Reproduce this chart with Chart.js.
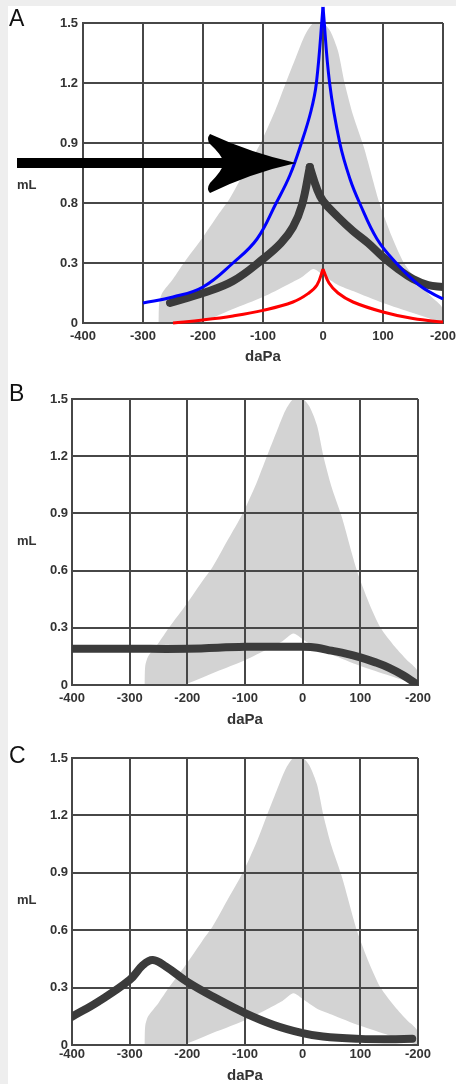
<!DOCTYPE html>
<html>
<head>
<meta charset="utf-8">
<script src="https://cdn.jsdelivr.net/npm/chart.js@4.4.1/dist/chart.umd.min.js"></script>
<style>
  html, body { margin: 0; padding: 0; background: #eeeeee; }
  body { width: 456px; height: 1084px; position: relative; overflow: hidden; }
  .sheet { position: absolute; left: 8px; top: 6px; width: 448px; height: 1078px; background: #fff; }
  canvas { position: absolute; left: 0; }
  .letter { position: absolute; left: 9px; font: 23px "Liberation Sans", Arial, sans-serif; line-height: 23px; color: #111; }
  .unit { position: absolute; left: 17px; font: bold 13px "Liberation Sans", Arial, sans-serif; line-height: 13px; color: #333; }
</style>
</head>
<body>
<div class="sheet"></div>
<canvas id="chartA" width="456" height="370" style="top:0px"></canvas>
<canvas id="chartB" width="456" height="360" style="top:370px"></canvas>
<canvas id="chartC" width="456" height="354" style="top:730px"></canvas>
<div class="letter" style="top:7px">A</div>
<div class="letter" style="top:382px">B</div>
<div class="letter" style="top:744px">C</div>
<div class="unit" style="top:178px">mL</div>
<div class="unit" style="top:534px">mL</div>
<div class="unit" style="top:893px">mL</div>

<script>
// tick labels (as printed on the figure)
const xTickLabels = ['-400', '-300', '-200', '-100', '0', '100', '-200'];
const yTickLabelsA = ['0', '0.3', '0.8', '0.9', '1.2', '1.5'];
const yTickLabelsB = ['0', '0.3', '0.6', '0.9', '1.2', '1.5'];
const yTickLabelsC = ['0', '0.3', '0.6', '0.9', '1.2', '1.5'];

// normal range (grey area), same on every panel
const normUpperX = [-274, -273, -268, -250, -232, -200, -175, -156, -130, -104, -80, -62, -45, -30, -16, 0, 12, 25, 36, 50, 68, 94, 115, 135, 160, 181, 198, 200];
const normUpperY = [0.0, 0.1, 0.15, 0.22, 0.3, 0.43, 0.54, 0.62, 0.76, 0.9, 1.06, 1.2, 1.33, 1.44, 1.5, 1.5, 1.46, 1.36, 1.2, 1.04, 0.88, 0.6, 0.43, 0.3, 0.2, 0.13, 0.08, 0.0];
const normLowerX = [-274, -210, -150, -100, -60, -35, -16, 0, 25, 50, 100, 150, 200];
const normLowerY = [0.0, 0.0, 0.07, 0.13, 0.19, 0.23, 0.27, 0.24, 0.19, 0.16, 0.1, 0.05, 0.0];

// panel A
const aDarkRiseX = [-255, -200, -150, -100, -70, -50, -35, -22];
const aDarkRiseY = [0.1, 0.15, 0.21, 0.32, 0.4, 0.48, 0.59, 0.78];
const aDarkFallX = [-22, -10, 0, 25, 50, 75, 100, 125, 150, 175, 200];
const aDarkFallY = [0.78, 0.67, 0.61, 0.53, 0.46, 0.4, 0.33, 0.27, 0.22, 0.19, 0.18];
const aBlueRiseX = [-300, -250, -200, -150, -110, -78, -55, -36, -20, -11, 0];
const aBlueRiseY = [0.1, 0.13, 0.18, 0.3, 0.42, 0.6, 0.74, 0.9, 1.06, 1.2, 1.58];
const aBlueFallX = [0, 11, 28, 45, 61, 90, 122, 160, 200, 222];
const aBlueFallY = [1.58, 1.2, 0.9, 0.72, 0.6, 0.42, 0.3, 0.19, 0.12, 0.1];
const aRedRiseX = [-250, -200, -150, -100, -50, -25, -10, 0];
const aRedRiseY = [0.0, 0.015, 0.035, 0.063, 0.105, 0.147, 0.19, 0.27];
const aRedFallX = [0, 10, 25, 50, 100, 150, 200, 222];
const aRedFallY = [0.27, 0.2, 0.15, 0.105, 0.055, 0.022, 0.005, 0.0];
const arrowX = [-510, -45];
const arrowY = [0.8, 0.8];

// panel B
const bDarkX = [-400, -300, -200, -100, -50, 0, 25, 50, 75, 100, 125, 150, 175, 195];
const bDarkY = [0.19, 0.19, 0.19, 0.2, 0.2, 0.2, 0.195, 0.18, 0.165, 0.145, 0.12, 0.09, 0.05, 0.01];

// panel C
const cDarkX = [-400, -355, -300, -277, -260, -237, -200, -150, -100, -50, 0, 35, 100, 150, 190];
const cDarkY = [0.148, 0.226, 0.34, 0.418, 0.444, 0.41, 0.33, 0.244, 0.167, 0.105, 0.062, 0.044, 0.032, 0.03, 0.033];

const FONT = '"Liberation Sans", Arial, sans-serif';
const GRID = '#474747';
const DARK = '#3b3b3b';

function pts(xs, ys) {
    return xs.map((x, i) => ({ x: x, y: ys[i] }));
}

function normShape() {
    const upper = pts(normUpperX, normUpperY);
    const lower = pts(normLowerX, normLowerY).reverse();
    return {
        data: upper.concat(lower),
        borderWidth: 0,
        backgroundColor: '#d3d3d3',
        fill: 'shape',
        tension: 0.25,
        pointRadius: 0
    };
}

function curve(xs, ys, color, width, extra) {
    return Object.assign({
        data: pts(xs, ys),
        borderColor: color,
        borderWidth: width,
        fill: false,
        pointRadius: 0,
        tension: 0.4,
        borderCapStyle: 'round',
        borderJoinStyle: 'round'
    }, extra || {});
}

const arrowPlugin = {
    id: 'bigArrow',
    afterDatasetsDraw(chart) {
        const ctx = chart.ctx;
        const sx = chart.scales.x.getPixelForValue(arrowX[0]);
        const tx = chart.scales.x.getPixelForValue(arrowX[1]);
        const ty = chart.scales.y.getPixelForValue(arrowY[1]);
        ctx.save();
        ctx.fillStyle = '#000';
        ctx.fillRect(sx, ty - 5, tx - 70 - sx, 10);
        ctx.beginPath();
        ctx.moveTo(tx, ty);
        ctx.quadraticCurveTo(tx - 45, ty - 10, tx - 86, ty - 29);
        ctx.quadraticCurveTo(tx - 90, ty - 24, tx - 86, ty - 19);
        ctx.quadraticCurveTo(tx - 74, ty - 8, tx - 72, ty);
        ctx.quadraticCurveTo(tx - 74, ty + 8, tx - 86, ty + 20);
        ctx.quadraticCurveTo(tx - 90, ty + 26, tx - 86, ty + 30);
        ctx.quadraticCurveTo(tx - 45, ty + 10, tx, ty);
        ctx.closePath();
        ctx.fill();
        ctx.restore();
    }
};

function makePanel(id, g, yLabels, datasets, plugins) {
    return new Chart(document.getElementById(id), {
        type: 'line',
        data: { datasets: datasets },
        plugins: plugins || [],
        options: {
            responsive: false,
            animation: false,
            events: [],
            layout: { padding: { top: g.top, right: g.right, left: 0, bottom: 0 } },
            plugins: {
                legend: { display: false },
                tooltip: { enabled: false },
                filler: { drawTime: 'beforeDraw' }
            },
            scales: {
                x: {
                    type: 'linear',
                    min: -400,
                    max: 200,
                    ticks: {
                        stepSize: 100,
                        autoSkip: false,
                        maxRotation: 0,
                        padding: g.xPad,
                        color: '#333',
                        font: { family: FONT, size: 13, weight: 'bold' },
                        callback: (v, i) => xTickLabels[i]
                    },
                    grid: { color: GRID, lineWidth: 2, drawTicks: false },
                    border: { color: GRID, width: 2 },
                    title: {
                        display: true,
                        text: 'daPa',
                        color: '#333',
                        font: { family: FONT, size: 15, weight: 'bold', lineHeight: 1 },
                        padding: { top: 0, bottom: g.titlePad }
                    },
                    afterFit: (s) => {
                        s.height = g.xHeight;
                        s.paddingLeft = 0;
                        s.paddingRight = 0;
                    }
                },
                y: {
                    min: 0,
                    max: 1.5,
                    ticks: {
                        stepSize: 0.3,
                        padding: g.yPad,
                        color: '#333',
                        font: { family: FONT, size: 13, weight: 'bold' },
                        callback: (v, i) => yLabels[i]
                    },
                    grid: { color: GRID, lineWidth: 2, drawTicks: false },
                    border: { color: GRID, width: 2 },
                    afterFit: (s) => {
                        s.width = g.yWidth;
                        s.paddingTop = 0;
                        s.paddingBottom = 0;
                    }
                }
            }
        }
    });
}

// A: plot area x 83..443, y 23..323
makePanel('chartA',
    { top: 23, right: 13, yWidth: 83, xHeight: 47, xPad: 6, yPad: 5, titlePad: 5.5 },
    yTickLabelsA,
    [
        curve(aBlueRiseX, aBlueRiseY, '#0000ff', 3, { clip: false, borderCapStyle: 'butt' }),
        curve(aBlueFallX, aBlueFallY, '#0000ff', 3, { clip: false, borderCapStyle: 'butt' }),
        curve(aRedRiseX, aRedRiseY, '#ff0000', 3, { clip: false, borderCapStyle: 'butt' }),
        curve(aRedFallX, aRedFallY, '#ff0000', 3, { clip: false, borderCapStyle: 'butt' }),
        curve(aDarkRiseX, aDarkRiseY, DARK, 8),
        curve(aDarkFallX, aDarkFallY, DARK, 8),
        normShape()
    ],
    [arrowPlugin]);

// B: plot area x 72..418, y 399..685
makePanel('chartB',
    { top: 29, right: 38, yWidth: 72, xHeight: 45, xPad: 6, yPad: 4, titlePad: 2.5 },
    yTickLabelsB,
    [
        curve(bDarkX, bDarkY, DARK, 8),
        normShape()
    ]);

// C: plot area x 72..418, y 758..1045
makePanel('chartC',
    { top: 28, right: 38, yWidth: 72, xHeight: 39, xPad: 2, yPad: 4, titlePad: 0.5 },
    yTickLabelsC,
    [
        curve(cDarkX, cDarkY, DARK, 8),
        normShape()
    ]);
</script>
</body>
</html>
